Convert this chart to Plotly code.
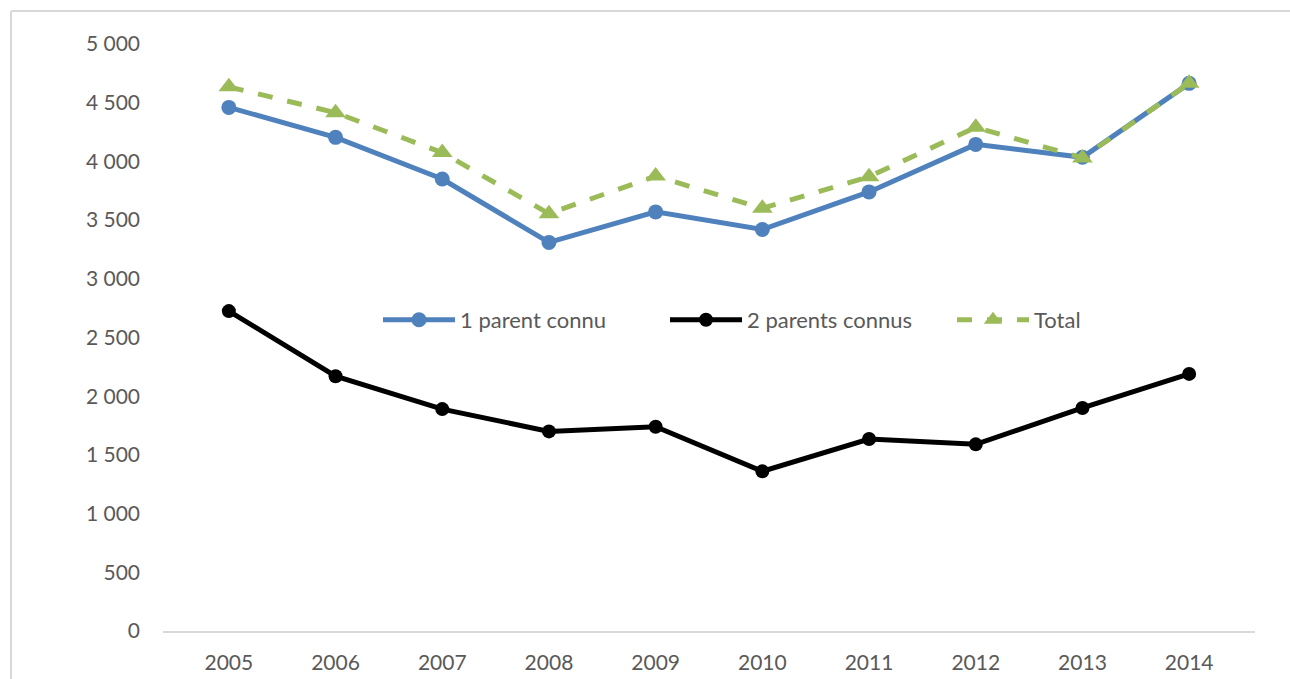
import plotly.graph_objects as go

# Naissances par année selon le nombre de parents connus
years = ["2005", "2006", "2007", "2008", "2009", "2010", "2011", "2012", "2013", "2014"]
un_parent = [4460, 4205, 3850, 3310, 3570, 3420, 3740, 4145, 4035, 4665]
deux_parents = [2725, 2170, 1890, 1700, 1740, 1360, 1635, 1590, 1900, 2190]
total = [4635, 4415, 4075, 3555, 3875, 3600, 3870, 4290, 4030, 4665]
y_ticks = [0, 500, 1000, 1500, 2000, 2500, 3000, 3500, 4000, 4500, 5000]

W, H = 1290, 679
ML, MR, MT, MB = 163, 35, 44, 48
PW, PH = W - ML - MR, H - MT - MB

FONT = "Lato, Calibri, Carlito, sans-serif"
TXT = "#595959"
FS = 21

fig = go.Figure()
fig.add_trace(go.Scatter(
    x=years, y=un_parent, name="1 parent connu", mode="lines+markers",
    line=dict(color="#4F81BD", width=5),
    marker=dict(symbol="circle", size=15, color="#4F81BD"),
))
fig.add_trace(go.Scatter(
    x=years, y=deux_parents, name="2 parents connus", mode="lines+markers",
    line=dict(color="#000000", width=5),
    marker=dict(symbol="circle", size=14, color="#000000"),
))
fig.add_trace(go.Scatter(
    x=years, y=total, name="Total", mode="lines+markers",
    line=dict(color="#9BBB59", width=5, dash="dash"),
    marker=dict(symbol="triangle-up", size=18, color="#9BBB59"),
))


def px_x(p):
    return (p - ML) / PW


def px_y(p):
    return (H - MB - p) / PH


# outer chart frame (top and left edges)
frame = dict(color="#D9D9D9", width=2)
fig.add_shape(type="line", xref="paper", yref="paper",
              x0=px_x(11), x1=px_x(W + 10), y0=px_y(11), y1=px_y(11), line=frame)
fig.add_shape(type="line", xref="paper", yref="paper",
              x0=px_x(11), x1=px_x(11), y0=px_y(11), y1=px_y(H + 10), line=frame)

fig.update_layout(
    width=W, height=H,
    margin=dict(l=ML, r=MR, t=MT, b=MB, autoexpand=False),
    paper_bgcolor="white", plot_bgcolor="white",
    separators=", ",
    font=dict(family=FONT, size=FS, color=TXT),
    showlegend=True,
    legend=dict(
        orientation="h", x=px_x(378), y=px_y(320),
        xanchor="left", yanchor="middle",
        entrywidth=200, entrywidthmode="pixels", itemwidth=72,
        font=dict(family=FONT, size=22, color=TXT),
        bgcolor="rgba(0,0,0,0)",
    ),
)
fig.update_xaxes(
    type="category", showgrid=False, showline=True, linecolor="#D9D9D9",
    linewidth=2, ticks="", ticklabelstandoff=12, automargin=False,
    tickfont=dict(family=FONT, size=FS, color=TXT),
)
fig.update_yaxes(
    range=[0, 5000], tickvals=y_ticks, tickformat=",d",
    showgrid=False, zeroline=False, showline=False, ticks="",
    ticklabelstandoff=22, automargin=False,
    tickfont=dict(family=FONT, size=FS, color=TXT),
)

fig.write_html("out.html")
